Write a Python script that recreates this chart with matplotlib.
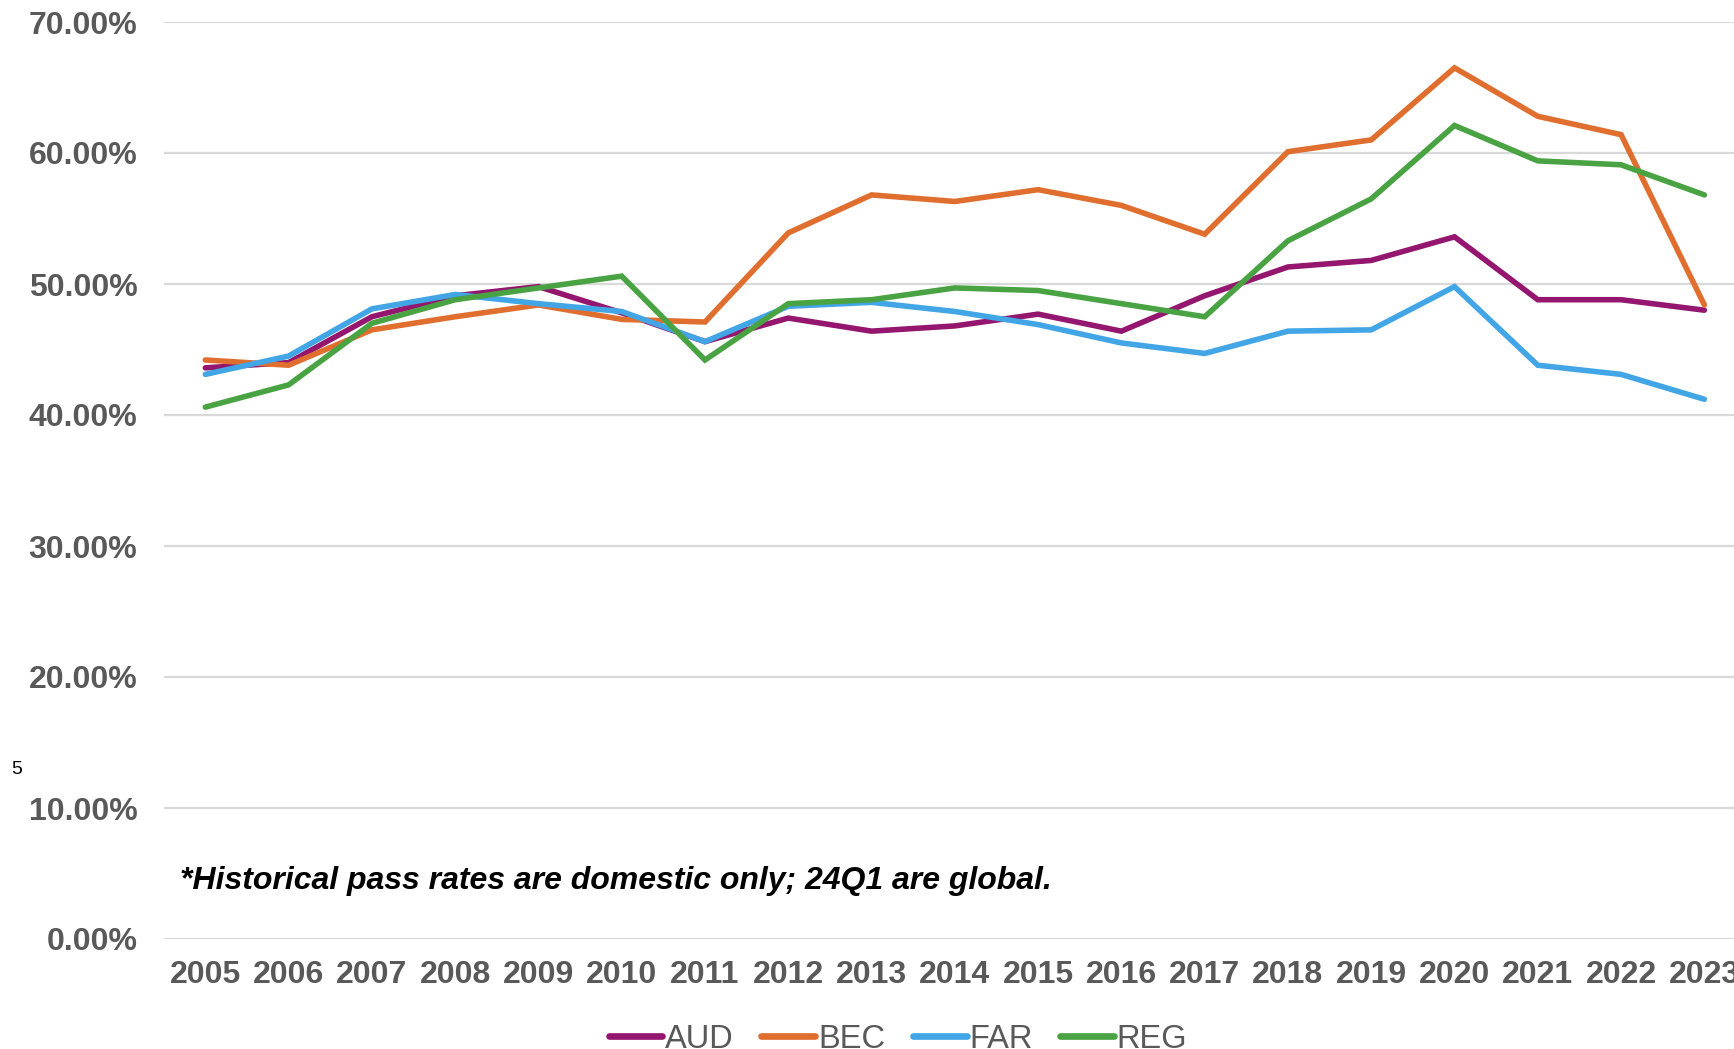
import matplotlib
matplotlib.use("Agg")
import matplotlib.pyplot as plt
from matplotlib.ticker import PercentFormatter

years = [str(y) for y in range(2005, 2024)]
aud = [43.6, 44.0, 47.5, 49.1, 49.8, 47.8, 45.6, 47.4, 46.4, 46.8, 47.7, 46.4, 49.1, 51.3, 51.8, 53.6, 48.8, 48.8, 48.0]
bec = [44.2, 43.8, 46.5, 47.5, 48.4, 47.3, 47.1, 53.9, 56.8, 56.3, 57.2, 56.0, 53.8, 60.1, 61.0, 66.5, 62.8, 61.4, 48.4]
far = [43.1, 44.5, 48.1, 49.2, 48.5, 47.9, 45.6, 48.3, 48.6, 47.9, 46.9, 45.5, 44.7, 46.4, 46.5, 49.8, 43.8, 43.1, 41.2]
reg = [40.6, 42.3, 47.0, 48.8, 49.7, 50.6, 44.2, 48.5, 48.8, 49.7, 49.5, 48.5, 47.5, 53.3, 56.5, 62.1, 59.4, 59.1, 56.8]
series_names = ["AUD", "BEC", "FAR", "REG"]
colors = ["#94166E", "#E06E2E", "#41A5E6", "#49A342"]
yticks = [0, 10, 20, 30, 40, 50, 60, 70]
note = "*Historical pass rates are domestic only; 24Q1 are global."

plt.rcParams['font.family'] = ['Liberation Sans', 'DejaVu Sans']

fig = plt.figure(figsize=(17.34, 10.49), dpi=100)
ax = fig.add_axes([163.7 / 1734, 110 / 1049, (1746 - 163.7) / 1734, (1027 - 110) / 1049])

x = list(range(len(years)))
for name, vals, c in zip(series_names, [aud, bec, far, reg], colors):
    ax.plot(x, vals, color=c, lw=4.0, label=name, solid_capstyle='round', solid_joinstyle='miter', zorder=3)

ax.set_xlim(-0.5, len(years) - 0.5)
ax.set_ylim(0, 70)
ax.set_yticks(yticks)
ax.yaxis.set_major_formatter(PercentFormatter(xmax=100, decimals=2))
ax.set_xticks(x)
ax.set_xticklabels(years)
ax.grid(axis='y', color='#D9D9D9', lw=1.6, zorder=0)
ax.grid(axis='x', visible=False)
for s in ax.spines.values():
    s.set_visible(False)
ax.tick_params(axis='both', length=0, labelsize=23, labelcolor='#595959')
ax.tick_params(axis='x', pad=15)
ax.tick_params(axis='y', pad=19)
for lab in ax.get_xticklabels() + ax.get_yticklabels():
    lab.set_fontweight('bold')

fig.text(180 / 1734, 1 - 881 / 1049, note, fontsize=23, fontweight='bold', fontstyle='italic',
         color='black', va='center', ha='left')
fig.text(11 / 1734, 1 - 769 / 1049, "5", fontsize=14, color='black', va='center', ha='left')

leg = fig.legend(loc='center', bbox_to_anchor=(898 / 1734, 10 / 1049), ncol=4, frameon=False,
                 fontsize=23.5, handlelength=1.65, handletextpad=0.08, columnspacing=0.85,
                 labelcolor='#595959', borderaxespad=0)
for line in leg.get_lines():
    line.set_linewidth(4.8)
    line.set_solid_capstyle('round')

fig.savefig("out.png", dpi=100)
